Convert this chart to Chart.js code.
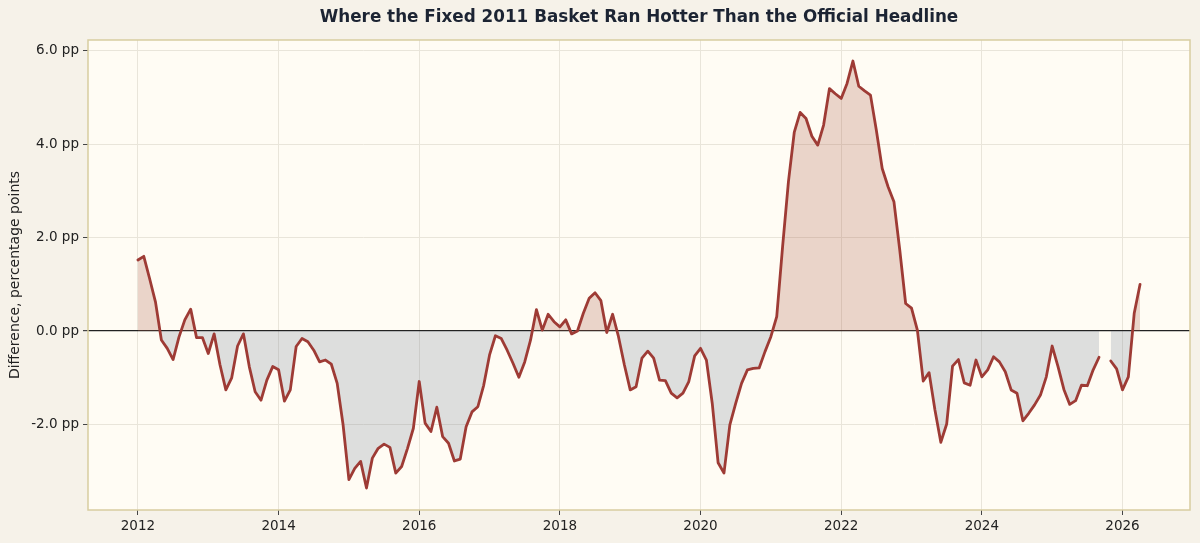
<!DOCTYPE html>
<html lang="en">
<head>
<meta charset="UTF-8">
<title>Fixed 2011 basket vs official headline</title>
<script src="https://cdn.jsdelivr.net/npm/chart.js"></script>
<style>
    html, body { margin: 0; padding: 0; background: #f6f2e9; }
    #wrap { width: 1200px; height: 543px; }
</style>
</head>
<body>
<div id="wrap"><canvas id="diffChart" width="1200" height="543"></canvas></div>
<script>
// monthly difference (fixed 2011 basket minus official headline), percentage points
const startYear = 2012;
const v2012 = [1.52, 1.60, 1.12, 0.62, -0.19, -0.37, -0.61, -0.13, 0.24, 0.47, -0.14, -0.14];
const v2013 = [-0.48, -0.06, -0.72, -1.26, -1.00, -0.32, -0.06, -0.76, -1.30, -1.48, -1.05, -0.76];
const v2014 = [-0.83, -1.50, -1.26, -0.33, -0.16, -0.23, -0.41, -0.66, -0.62, -0.71, -1.12, -2.00];
const v2015 = [-3.18, -2.94, -2.79, -3.36, -2.72, -2.51, -2.42, -2.49, -3.04, -2.90, -2.51, -2.08];
const v2016 = [-1.08, -1.97, -2.15, -1.63, -2.26, -2.40, -2.78, -2.74, -2.05, -1.73, -1.62, -1.16];
const v2017 = [-0.51, -0.10, -0.16, -0.41, -0.69, -0.99, -0.66, -0.19, 0.46, 0.02, 0.36, 0.20];
const v2018 = [0.09, 0.24, -0.06, 0.00, 0.38, 0.70, 0.82, 0.65, -0.03, 0.36, -0.12, -0.72];
const v2019 = [-1.26, -1.19, -0.58, -0.43, -0.58, -1.05, -1.06, -1.33, -1.43, -1.33, -1.08, -0.53];
const v2020 = [-0.37, -0.62, -1.55, -2.82, -3.04, -2.01, -1.55, -1.12, -0.83, -0.80, -0.79, -0.44];
const v2021 = [-0.12, 0.31, 1.80, 3.20, 4.26, 4.68, 4.55, 4.17, 3.98, 4.41, 5.19, 5.08];
const v2022 = [4.98, 5.30, 5.78, 5.24, 5.14, 5.05, 4.30, 3.48, 3.09, 2.77, 1.73, 0.59];
const v2023 = [0.49, 0.02, -1.07, -0.89, -1.69, -2.38, -1.99, -0.75, -0.61, -1.11, -1.16, -0.62];
const v2024 = [-0.98, -0.83, -0.55, -0.66, -0.87, -1.26, -1.33, -1.92, -1.76, -1.58, -1.37, -0.98];
const v2025 = [-0.32, -0.76, -1.25, -1.57, -1.49, -1.16, -1.17, -0.83, -0.56, null, -0.64, -0.81]; // no Oct reading
const v2026 = [-1.26, -0.98, 0.38, 1.00];

const yearTicks = [2012, 2014, 2016, 2018, 2020, 2022, 2024, 2026];
const ppTicks = [-2, 0, 2, 4, 6];

const diffs = [].concat(v2012, v2013, v2014, v2015, v2016, v2017, v2018, v2019,
                        v2020, v2021, v2022, v2023, v2024, v2025, v2026);
const points = diffs.map((v, i) => ({ x: startYear + i / 12, y: v }));

const FONT = "'DejaVu Sans', sans-serif";
const TITLE = 'Where the Fixed 2011 Basket Ran Hotter Than the Official Headline';
const Y_TITLE = 'Difference, percentage points';

const decor = {
    id: 'decor',
    beforeDraw(chart) {
        const { ctx, chartArea: a } = chart;
        ctx.save();
        ctx.fillStyle = '#f6f2e9';
        ctx.fillRect(0, 0, chart.width, chart.height);
        ctx.fillStyle = '#fffcf4';
        ctx.fillRect(a.left, a.top, a.right - a.left, a.bottom - a.top);
        ctx.restore();
    },
    afterDraw(chart) {
        const { ctx, chartArea: a } = chart;
        ctx.save();
        ctx.strokeStyle = '#d8cda0';
        ctx.lineWidth = 1.5;
        ctx.strokeRect(a.left, a.top, a.right - a.left, a.bottom - a.top);

        ctx.fillStyle = '#1c2433';
        ctx.font = 'bold 16.8px ' + FONT;
        ctx.textAlign = 'center';
        ctx.textBaseline = 'middle';
        ctx.fillText(TITLE, (a.left + a.right) / 2, 18);

        ctx.fillStyle = '#222';
        ctx.font = '14px ' + FONT;
        ctx.translate(15, (a.top + a.bottom) / 2);
        ctx.rotate(-Math.PI / 2);
        ctx.fillText(Y_TITLE, 0, 0);
        ctx.restore();
    }
};

new Chart(document.getElementById('diffChart'), {
    type: 'line',
    data: {
        datasets: [{
            data: points,
            borderColor: '#9e3b35',
            borderWidth: 2.8,
            borderJoinStyle: 'round',
            borderCapStyle: 'round',
            pointRadius: 0,
            tension: 0,
            spanGaps: false,
            fill: {
                target: { value: 0 },
                above: 'rgba(170, 90, 70, 0.25)',
                below: 'rgba(100, 120, 140, 0.22)'
            }
        }]
    },
    options: {
        responsive: false,
        devicePixelRatio: 1,
        animation: false,
        layout: { padding: { top: 40, right: 10, left: 0, bottom: 0 } },
        plugins: {
            legend: { display: false },
            tooltip: { enabled: false },
            title: { display: false }
        },
        scales: {
            x: {
                type: 'linear',
                min: 2011.29,
                max: 2026.96,
                afterBuildTicks: s => { s.ticks = yearTicks.map(v => ({ value: v })); },
                afterFit: s => { s.height = 33; },
                border: { display: false },
                grid: {
                    color: '#e9e5da',
                    lineWidth: 1,
                    drawTicks: true,
                    tickLength: 5,
                    tickColor: '#444'
                },
                ticks: {
                    color: '#222',
                    font: { family: FONT, size: 13.5 },
                    padding: 3,
                    maxRotation: 0,
                    callback: v => String(v)
                }
            },
            y: {
                min: -3.83,
                max: 6.23,
                afterBuildTicks: s => { s.ticks = ppTicks.map(v => ({ value: v })); },
                afterFit: s => { s.width = 88; },
                border: { display: false },
                grid: {
                    color: c => (c.tick && c.tick.value === 0) ? '#222' : '#e9e5da',
                    lineWidth: c => (c.tick && c.tick.value === 0) ? 1.2 : 1,
                    drawTicks: true,
                    tickLength: 5,
                    tickColor: '#444'
                },
                ticks: {
                    color: '#222',
                    font: { family: FONT, size: 13.5 },
                    padding: 4,
                    callback: v => v.toFixed(1) + ' pp'
                }
            }
        }
    },
    plugins: [decor]
});
</script>
</body>
</html>
